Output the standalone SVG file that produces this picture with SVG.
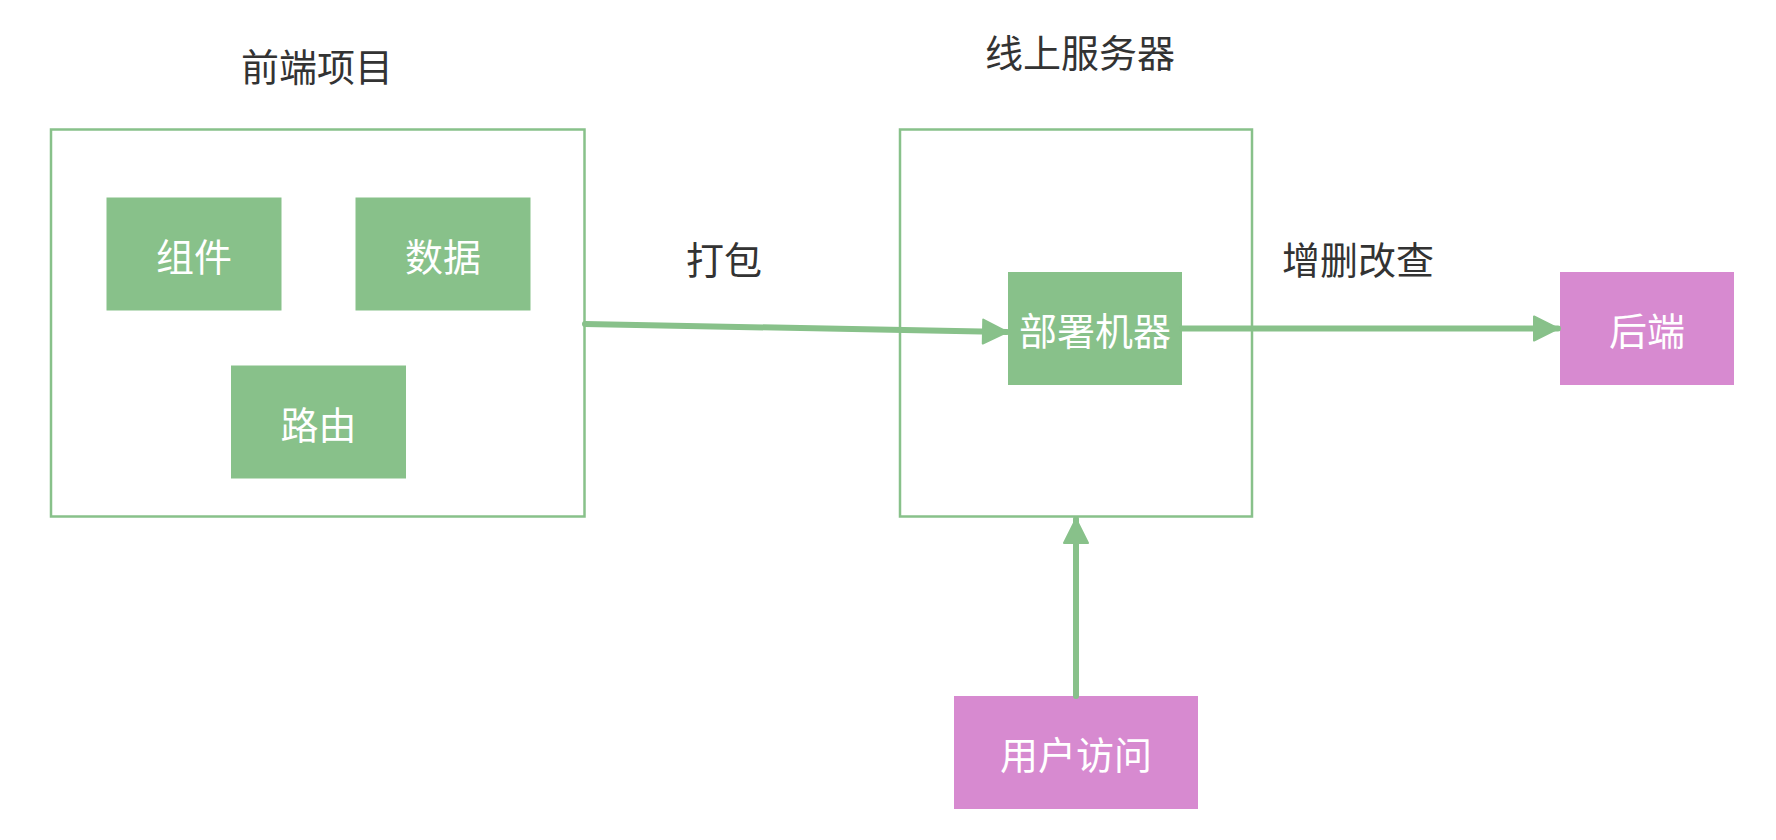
<svg xmlns="http://www.w3.org/2000/svg" width="1776" height="840" viewBox="0 0 1776 840">
<style>
.t{font-family:"Noto Sans CJK SC","Noto Sans",sans-serif;font-size:38px;text-anchor:middle;dominant-baseline:central}
.dark{fill:#333333}
.white{fill:#ffffff}
.frame{fill:#ffffff;stroke:#88c18a;stroke-width:2.5}
.g{fill:#88c18a}
.p{fill:#d78ad0}
.edge{stroke:#88c18a;stroke-width:6;fill:none;stroke-linecap:round}
</style>
<defs>
<marker id="ah" viewBox="0 0 28 28" refX="26" refY="14" markerWidth="28" markerHeight="28" markerUnits="userSpaceOnUse" orient="auto">
<path d="M2,2 L26,14 L2,26 Z" fill="#88c18a" stroke="#88c18a" stroke-width="2" stroke-linejoin="round"/>
</marker>
</defs>
<rect width="1776" height="840" fill="#ffffff"/>
<g id="frontend">
<rect class="frame" x="51" y="129.5" width="533.5" height="387"/>
<text class="t dark" x="317" y="64">前端项目</text>
</g>
<g id="server">
<rect class="frame" x="900" y="129.5" width="352" height="387"/>
<text class="t dark" x="1080" y="50">线上服务器</text>
</g>
<g id="zujian">
<rect class="g" x="106.5" y="197.5" width="175" height="113"/>
<text class="t white" x="194" y="254">组件</text>
</g>
<g id="shuju">
<rect class="g" x="355.5" y="197.5" width="175" height="113"/>
<text class="t white" x="443" y="254">数据</text>
</g>
<g id="luyou">
<rect class="g" x="231" y="365.5" width="175" height="113"/>
<text class="t white" x="318.5" y="422">路由</text>
</g>
<g id="deploy">
<rect class="g" x="1008" y="272" width="174" height="113"/>
<text class="t white" x="1095" y="328.5">部署机器</text>
</g>
<g id="backend">
<rect class="p" x="1560" y="272" width="174" height="113"/>
<text class="t white" x="1647" y="328.5">后端</text>
</g>
<g id="user">
<rect class="p" x="954" y="696" width="244" height="113"/>
<text class="t white" x="1076" y="752.5">用户访问</text>
</g>
<g id="connectors">
<line class="edge" x1="585" y1="324" x2="1007" y2="332" marker-end="url(#ah)"/>
<line class="edge" x1="1182" y1="328.5" x2="1558" y2="328.5" marker-end="url(#ah)"/>
<line class="edge" x1="1076" y1="696" x2="1076" y2="519" marker-end="url(#ah)"/>
<text class="t dark" x="724" y="257">打包</text>
<text class="t dark" x="1358" y="257.5">增删改查</text>
</g>
</svg>
